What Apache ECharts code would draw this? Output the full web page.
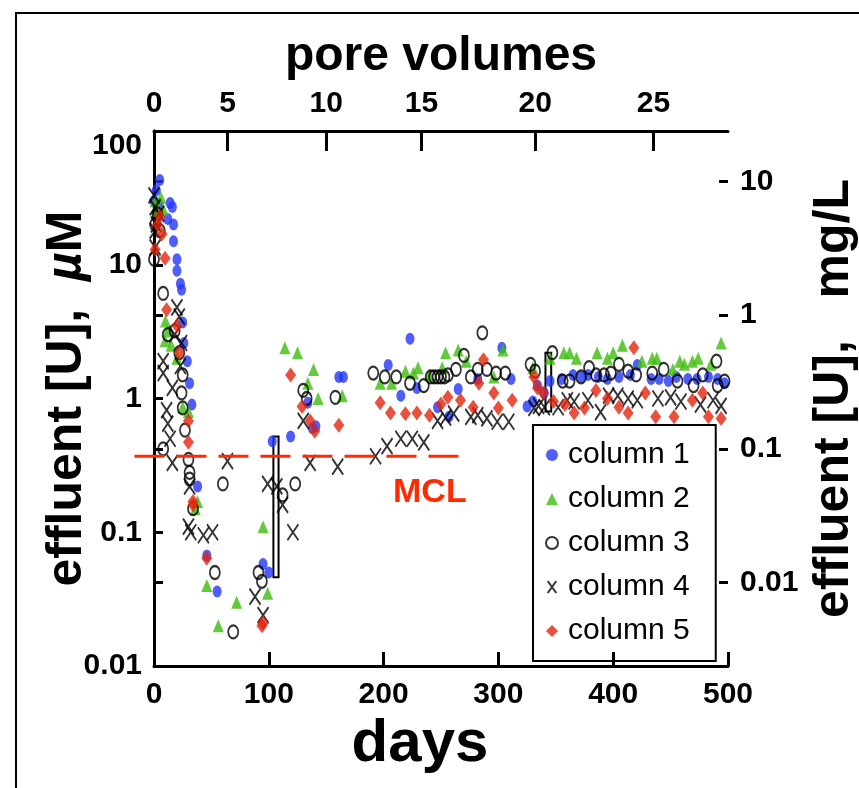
<!DOCTYPE html>
<html><head><meta charset="utf-8">
<script src="https://cdn.jsdelivr.net/npm/echarts@6/dist/echarts.min.js"></script>
<style>html,body{margin:0;padding:0;background:#fff}#c{width:859px;height:788px}</style>
</head><body><div id="c"></div>
<script>
// days, effluent [U] in µM
const column1 = [[0,30],[2,36],[5,43],[4,28],[12,22],[14,29],[16,27],[17,20],[17,15],[20,11],[20,9],[23,7.2],[24,6.5],[25,3.7],[26,2.6],[29,1.9],[31,1.3],[33,0.9],[38,0.22],[46,0.067],[55,0.036],[95,0.058],[100,0.05],[103,0.48],[119,0.52],[134,0.93],[138,0.6],[141,0.62],[161,1.45],[165,1.45],[204,1.78],[215,1.05],[223,2.8],[229,1.2],[247,0.86],[257,0.73],[265,1.18],[282,1.4],[303,2.4],[311,1.4],[325,0.87],[330,0.95],[334,1.25],[340,1.1],[345,1.35],[355,1.4],[365,1.5],[372,1.45],[378,1.5],[387,1.45],[395,1.4],[405,1.45],[415,1.5],[421,1.78],[433,1.4],[440,1.4],[448,1.35],[455,1.45],[465,1.4],[473,1.4],[483,1.45],[491,1.4],[497,1.3]];
const column2 = [[1,30],[3,25],[6,32],[8,26],[10,3.8],[9.6,2.7],[12,3.2],[15,2.5],[20,2],[25,0.86],[30,0.8],[36,0.15],[38,0.17],[46,0.04],[56,0.02],[72,0.03],[95,0.11],[99,0.035],[114,2.4],[125,2.2],[134,1.3],[139,1.65],[143,1.0],[164,1.05],[197,1.3],[207,1.3],[219,1.6],[226,1.55],[230,1.7],[240,1.5],[251,1.7],[254,2.2],[265,2.3],[272,1.9],[296,1.45],[304,2.3],[330,1.7],[345,2.0],[357,2.2],[362,2.2],[368,2.0],[386,2.2],[395,2.0],[400,2.2],[408,2.5],[425,1.9],[434,2.0],[438,2.0],[452,1.65],[458,1.9],[462,1.8],[469,1.9],[474,2.0],[485,1.8],[494,2.6]];
const column3 = [[0,11],[1,20],[3,24],[5,18],[8,6.1],[8,0.42],[12,3],[18,3.2],[22,2.2],[24,1.1],[25,1.5],[25,0.85],[27,0.58],[30,0.35],[31,0.28],[31,0.25],[34,0.15],[53,0.05],[60,0.23],[69,0.018],[91,0.05],[94,0.043],[112,0.19],[123,0.23],[130,1.15],[133,1.0],[158,1.02],[191,1.55],[201,1.45],[211,1.45],[223,1.3],[235,1.25],[241,1.45],[244,1.45],[247,1.45],[250,1.45],[253,1.45],[256,1.5],[263,1.65],[270,2.1],[276,1.45],[282,1.65],[286,3.1],[290,1.65],[298,1.55],[306,1.55],[328,1.8],[332,1.6],[347,2.2],[356,1.35],[362,1.35],[372,1.45],[379,1.7],[385,1.5],[392,1.5],[398,1.55],[405,1.8],[413,1.6],[420,1.5],[434,1.55],[444,1.65],[456,1.35],[470,1.25],[478,1.5],[490,1.9],[491,1.25],[497,1.35]];
const column4 = [[0,33],[1,27],[2,20],[1,18],[1,13.5],[4,24],[20,4.8],[22,4.1],[8,1.9],[8,1.55],[16,1.2],[11,0.82],[12,0.65],[14,0.5],[16,0.33],[23,1.75],[24,2.6],[18,3.0],[31,0.22],[30,0.11],[32,0.1],[43,0.095],[51,0.1],[64,0.34],[88,0.033],[95,0.024],[99,0.23],[107,0.22],[112,0.16],[121,0.1],[130,0.68],[136,0.33],[160,0.31],[193,0.37],[203,0.44],[215,0.5],[225,0.5],[235,0.47],[247,0.68],[254,0.72],[261,0.77],[276,0.73],[282,0.75],[290,0.71],[299,0.67],[309,0.67],[331,0.85],[335,0.88],[340,0.86],[352,0.86],[360,0.97],[366,0.95],[378,0.97],[389,0.79],[396,1.05],[404,1.05],[413,1.0],[421,0.97],[439,1.0],[450,1.02],[459,0.95],[476,0.9],[487,0.97],[494,0.88]];
const column5 = [[1,13],[3,20],[5,23],[7,17],[9.6,11.2],[11,4.6],[20,3.5],[22,2.2],[30,0.68],[30,0.47],[34,0.17],[34,0.16],[46,0.064],[94,0.02],[95,0.021],[119,1.5],[129,0.87],[136,0.68],[140,0.57],[161,0.63],[197,0.93],[206,0.78],[219,0.77],[229,0.78],[240,0.75],[250,0.91],[256,1.02],[267,0.97],[278,0.86],[283,1.3],[287,1.95],[296,1.1],[300,0.85],[312,0.97],[331,1.45],[334,1.2],[339,1.1],[348,0.95],[358,0.9],[366,0.78],[375,0.85],[385,1.15],[395,1.0],[405,0.86],[413,0.78],[418,2.4],[428,1.1],[437,0.73],[453,0.73],[469,0.97],[478,1.1],[483,0.73],[494,0.71]];
const seriesNames = ['column 1','column 2','column 3','column 4','column 5'];
const poreVolumeLabels = [0,5,10,15,20,25];
const poreVolumeDays = [0,64,150,233,332,435];
const mgPerMicromolar = 0.238;
const mclValue = 0.37;
const mclSpanDays = [-17, 269];
// [dayStart, dayEnd, lowµM, highµM]
const brackets = [[104,108.5,0.046,0.52],[341,346,0.8,2.2]];

const sans = '"Liberation Sans", Arial, sans-serif';
const tickFont = {fontFamily: sans, fontWeight: 'bold', fontSize: 30, color: '#000'};
const titleFont = {fontFamily: sans, fontWeight: 'bold', fontSize: 50, color: '#000'};
const black = '#000';
function fmtLog(v){ const l = Math.log10(v); if (Math.abs(l-Math.round(l))>1e-6) return ''; return String(+Math.pow(10,Math.round(l)).toPrecision(3)); }

const chart = echarts.init(document.getElementById('c'), null, {renderer:'canvas'});
const xPath = 'path://M0,0L10,14M10,0L0,14';
chart.setOption({
  animation: false,
  backgroundColor: '#fff',
  grid: {left:154, right:131, top:131, bottom:122, containLabel:false, outerBoundsMode:'none'},
  legend: {
    orient:'vertical', left:533, top:425,
    data: seriesNames,
    backgroundColor:'#fff', borderColor:'#000', borderWidth:2, borderRadius:0,
    padding:[15,26,15,12], itemGap:14, itemWidth:12, itemHeight:12,
    textStyle:{fontFamily:sans, fontSize:30, color:'#000', lineHeight:30, padding:[0,0,0,5]},
    selectedMode:false
  },
  xAxis: [
    {type:'value', min:0, max:500, interval:100, position:'bottom', z:10,
     axisLine:{lineStyle:{color:black,width:3}},
     axisTick:{inside:true,length:14,lineStyle:{color:black,width:3}},
     axisLabel:{...tickFont, margin:14},
     splitLine:{show:false},
     name:'days', nameLocation:'middle', nameGap:48, nameTextStyle:{...titleFont, fontSize:60, padding:[0,42,0,0]}},
    {type:'value', min:0, max:500, position:'top',
     axisLine:{lineStyle:{color:black,width:3}},
     axisTick:{inside:true,length:20,lineStyle:{color:black,width:3}, customValues: poreVolumeDays},
     axisLabel:{...tickFont, margin:12, customValues: poreVolumeDays,
       formatter: v => String(poreVolumeLabels[poreVolumeDays.indexOf(v)])},
     splitLine:{show:false},
     name:'pore volumes', nameLocation:'middle', nameGap:50, nameTextStyle:{...titleFont, fontSize:48}}
  ],
  yAxis: [
    {type:'log', logBase:10, min:0.01, max:100, position:'left',
     axisLine:{lineStyle:{color:black,width:3}},
     axisTick:{inside:true,length:9,lineStyle:{color:black,width:3}},
     axisLabel:{...tickFont, margin:12, formatter: fmtLog, verticalAlignMaxLabel:'top'},
     splitLine:{show:false}, minorTick:{show:false},
     name:'effluent [U],  {i|µ}M', nameLocation:'middle', nameRotate:90, nameGap:62, nameMoveOverlap:false,
     nameTextStyle:{...titleFont, rich:{i:{...titleFont, fontStyle:'italic'}}}},
    {type:'log', logBase:10, min:0.01*mgPerMicromolar, max:100*mgPerMicromolar, position:'right',
     axisLine:{lineStyle:{color:black,width:3}},
     axisTick:{inside:false,length:9,lineStyle:{color:black,width:3}},
     axisLabel:{...tickFont, margin:12, formatter: fmtLog},
     splitLine:{show:false},
     name:'effluent [U],   mg/L', nameLocation:'middle', nameRotate:90, nameGap:59, nameTextStyle:titleFont},
    {type:'log', logBase:10, min:0.01*mgPerMicromolar, max:100*mgPerMicromolar, position:'right',
     axisLine:{show:false},
     axisTick:{inside:true,length:9,lineStyle:{color:black,width:3}},
     axisLabel:{show:false}, splitLine:{show:false}}
  ],
  series: [
    {name:'column 1', type:'scatter', data:column1, symbol:'circle', symbolSize:[9,12], itemStyle:{color:'#2436f8'}},
    {name:'column 2', type:'scatter', data:column2, symbol:'triangle', symbolSize:[11,13], itemStyle:{color:'#3cbd0c'}},
    {name:'column 3', type:'scatter', data:column3, symbol:'circle', symbolSize:[10,13], itemStyle:{color:'rgba(0,0,0,0)', borderColor:black, borderWidth:2}},
    {name:'column 4', type:'scatter', data:column4, symbol:xPath, symbolSize:[11,16], symbolKeepAspect:false, itemStyle:{color:'rgba(0,0,0,0)', borderColor:black, borderWidth:2}},
    {name:'column 5', type:'scatter', data:column5, symbol:'diamond', symbolSize:[11,15], itemStyle:{color:'#e2260c'}},
    {name:'brackets', type:'custom', clip:false, silent:true, z:1,
     data: brackets, encode:{x:[0,1], y:[2,3]},
     renderItem: (params, api) => {
       const a = api.coord([api.value(0), api.value(3)]);
       const b = api.coord([api.value(1), api.value(2)]);
       return {type:'rect', shape:{x:a[0], y:a[1], width:b[0]-a[0], height:b[1]-a[1]},
               style:{fill:'none', stroke:black, lineWidth:2}};
     }},
    {name:'MCL', type:'custom', clip:false, silent:true, z:3,
     data: [[mclSpanDays[0], mclSpanDays[1], mclValue]], encode:{x:[0,1], y:2},
     renderItem: (params, api) => {
       const a = api.coord([api.value(0), api.value(2)]);
       const b = api.coord([api.value(1), api.value(2)]);
       return {type:'line', shape:{x1:a[0], y1:a[1], x2:b[0], y2:b[1]},
               style:{stroke:'#ff2a00', lineWidth:3, lineDash:[30,12]}};
     }}
  ],
  graphic: [
    {type:'rect', shape:{x:16, y:13, width:900, height:900}, style:{fill:'none', stroke:'#000', lineWidth:2}, silent:true},
    {type:'text', left:393, top:476, style:{text:'MCL', fill:'#ff2a00', font:'bold 34px ' + sans}}
  ]
});
</script></body></html>
